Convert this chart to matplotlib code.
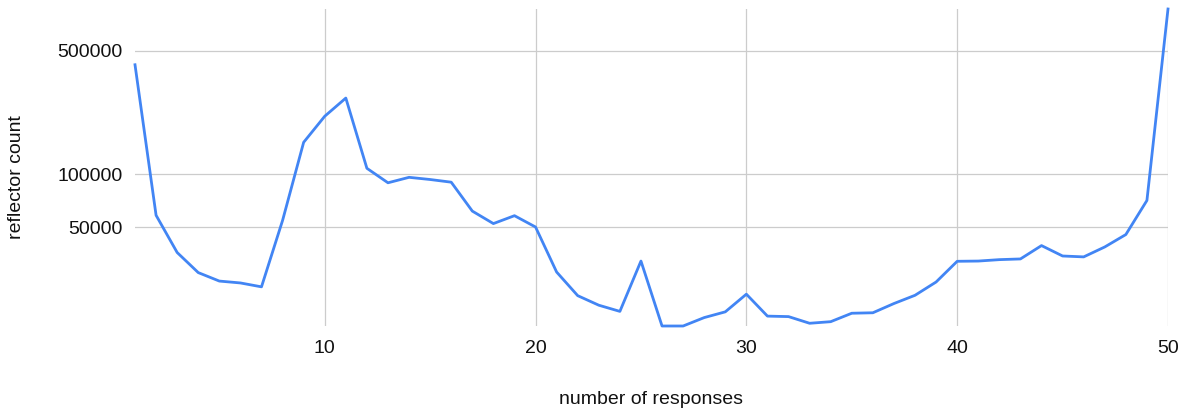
import matplotlib
matplotlib.use("Agg")
import matplotlib.pyplot as plt
import matplotlib.ticker as mticker

plt.rcParams['font.family'] = ['Liberation Sans', 'DejaVu Sans']

responses = list(range(1, 51))
reflectors = [417000, 58500, 36000, 27700, 24800, 24200, 23000, 54700, 151600, 213000,
              270000, 108000, 89400, 96000, 93300, 90100, 61800, 52500, 58200, 50200,
              27900, 20500, 18100, 16700, 32200, 13800, 13800, 15400, 16600, 20900,
              15700, 15600, 14300, 14600, 16300, 16400, 18500, 20600, 24500, 32100,
              32200, 32800, 33100, 39400, 34400, 34000, 38700, 45500, 71000, 863000]
y_ticks = [50000, 100000, 500000]
x_ticks = [10, 20, 30, 40, 50]

fig = plt.figure(figsize=(11.87, 4.12), dpi=100)
ax = fig.add_axes([135 / 1187, 1 - 326 / 412, (1168 - 135) / 1187, (326 - 9) / 412])

ax.plot(responses, reflectors, color='#4285F4', linewidth=2.0, clip_on=False, zorder=3)

ax.set_yscale('log')
ax.set_xlim(1, 50)
ax.set_ylim(13800, 863000)
ax.yaxis.set_major_locator(mticker.FixedLocator(y_ticks))
ax.yaxis.set_minor_locator(mticker.NullLocator())
ax.yaxis.set_major_formatter(mticker.FuncFormatter(lambda v, pos: '%d' % v))
ax.xaxis.set_major_locator(mticker.FixedLocator(x_ticks))

ax.grid(True, color='#cccccc', linewidth=0.9)
ax.set_axisbelow(True)
for s in ax.spines.values():
    s.set_visible(False)
ax.tick_params(axis='both', length=0, labelsize=14, colors='#111111')
ax.tick_params(axis='y', pad=9)
ax.tick_params(axis='x', pad=10)

fig.text(651 / 1187, 1 - 400 / 412, 'number of responses', ha='center', va='center',
         fontsize=14, color='#111111')
fig.text(17 / 1187, 1 - 177 / 412, 'reflector count', ha='center', va='center',
         rotation=90, fontsize=14, color='#111111')

fig.savefig('out.png', dpi=100)
